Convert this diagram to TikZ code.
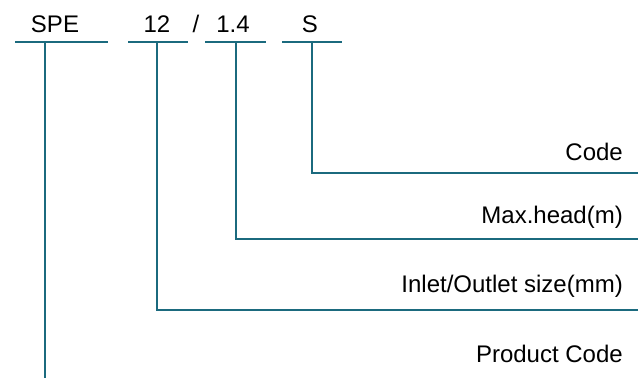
\documentclass[tikz,border=0pt]{standalone}
\usepackage{fontspec}
\setmainfont{Liberation Sans}
\definecolor{teal1}{HTML}{1B6A7E}
\begin{document}
\begin{tikzpicture}[x=1pt,y=-1pt,
  lbl/.style={inner sep=0pt,font=\fontsize{24}{27}\selectfont},
  ln/.style={draw=teal1,line width=2pt}]
\useasboundingbox (0,0) rectangle (641,378);
% top labels
\node[lbl,anchor=base] (spe) at (55,32) {SPE};
\node[lbl,anchor=base] (d12) at (157,32) {12};
\node[lbl,anchor=base] (sl) at (196,32) {/};
\node[lbl,anchor=base] (d14) at (233,32) {1.4};
\node[lbl,anchor=base] (s) at (310,32) {S};
% right labels
\node[lbl,anchor=base east] (code) at (623,160) {Code};
\node[lbl,anchor=base east] (head) at (623,223) {Max.head(m)};
\node[lbl,anchor=base east] (inlet) at (623,292) {Inlet/Outlet size(mm)};
\node[lbl,anchor=base east] (prod) at (623,362) {Product Code};
% coordinates
\coordinate (b1l) at (15,42); \coordinate (b1r) at (108,42); \coordinate (v1) at (45,42); \coordinate (e1) at (45,378);
\coordinate (b2l) at (128,42); \coordinate (b2r) at (188,42); \coordinate (v2) at (157,42); \coordinate (e2) at (638,310);
\coordinate (b3l) at (205,42); \coordinate (b3r) at (266,42); \coordinate (v3) at (236,42); \coordinate (e3) at (638,239);
\coordinate (b4l) at (282,42); \coordinate (b4r) at (342,42); \coordinate (v4) at (312,42); \coordinate (e4) at (638,173);
% bars
\draw[ln] (b1l) -- (b1r);
\draw[ln] (b2l) -- (b2r);
\draw[ln] (b3l) -- (b3r);
\draw[ln] (b4l) -- (b4r);
% leaders
\draw[ln] (v1) -- (e1);
\draw[ln] (v2) |- (e2);
\draw[ln] (v3) |- (e3);
\draw[ln] (v4) |- (e4);
\end{tikzpicture}
\end{document}
